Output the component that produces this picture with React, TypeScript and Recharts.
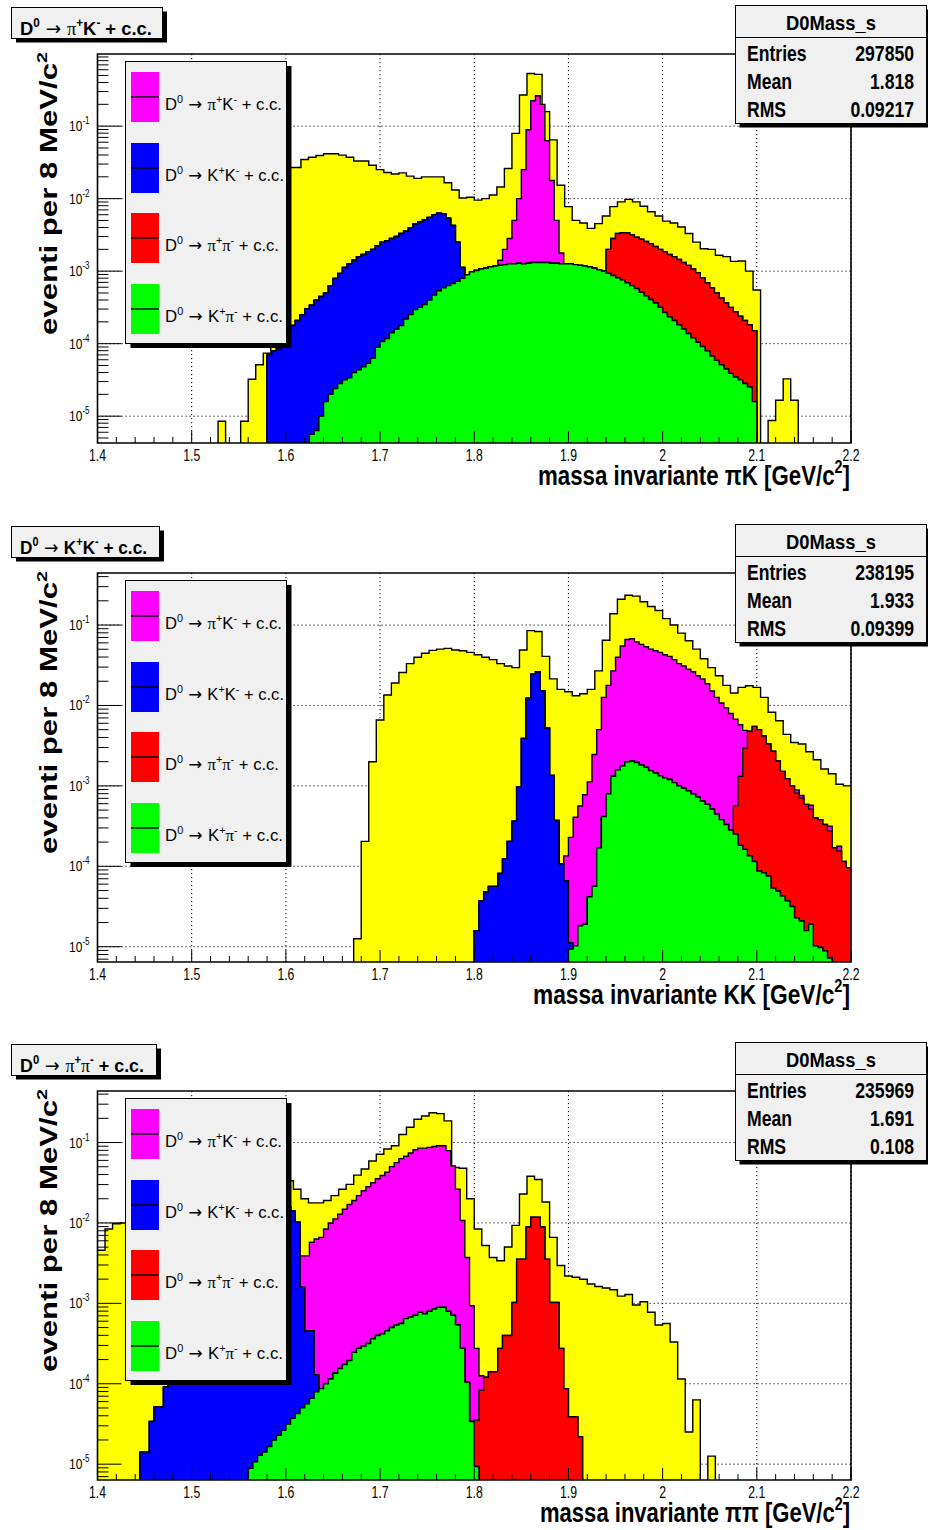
import React from 'react'
import { ComposedChart, Area, XAxis, YAxis, CartesianGrid, ReferenceArea } from 'recharts'

// D0 invariant-mass plots (ROOT THStack look), log y.
// "total" histogram: 100 bins of 8 MeV from 1.4 GeV; decay components: 160 bins of 5 MeV from 1.4 GeV.
// Every value below is log10 of the bin content (null = empty bin).
// Component arrays hold the visible top of each stacked colour (green < blue < red < magenta).

const xMajor = [1.4, 1.5, 1.6, 1.7, 1.8, 1.9, 2.0, 2.1, 2.2]
const xLabels = ['1.4', '1.5', '1.6', '1.7', '1.8', '1.9', '2', '2.1', '2.2']
const decades = [-6, -5, -4, -3, -2, -1, 0]

// ---- panel 1 : pi K mass
const p1TotalFrom = 16
const p1Total = [
  -5.07, null, null, -5.07, -4.49, -4.29, -4.13, -3.0, -2.2, -1.57,
  -1.57, -1.46, -1.43, -1.405, -1.38, -1.38, -1.4, -1.43, -1.48, -1.48,
  -1.54, -1.6, -1.64, -1.66, -1.645, -1.69, -1.72, -1.7, -1.7, -1.7,
  -1.78, -1.88, -1.99, -1.98, -2.02, -2.0, -1.95, -1.84, -1.585, -1.1,
  -0.57, -0.273, -0.286, -0.8, -1.19, -1.815, -2.11, -2.3, -2.335, -2.41,
  -2.345, -2.24, -2.11, -2.045, -2.01, -2.045, -2.105, -2.18, -2.24, -2.31,
  -2.335, -2.39, -2.48, -2.6, -2.69, -2.7, -2.78, -2.8, -2.865, -2.86,
  -3.0, -3.26, null, -5.06, -4.78, -4.485, -4.78,
]
const p1GreenFrom = 45
const p1Green = [
  -5.25, -5.2, -5.0, -4.8, -4.7, -4.62, -4.55, -4.5, -4.47, -4.4,
  -4.36, -4.32, -4.27, -4.2, -4.05, -3.97, -3.93, -3.85, -3.8, -3.75,
  -3.66, -3.6, -3.53, -3.5, -3.46, -3.4, -3.33, -3.27, -3.23, -3.2,
  -3.17, -3.14, -3.1, -3.05, -3.01, -2.99, -2.97, -2.96, -2.94, -2.93,
  -2.92, -2.91, -2.9, -2.9, -2.89, -2.9, -2.89, -2.88, -2.88, -2.88,
  -2.88, -2.89, -2.89, -2.9, -2.9, -2.9, -2.91, -2.92, -2.93, -2.94,
  -2.96, -2.98, -3.0, -3.03, -3.06, -3.09, -3.12, -3.16, -3.2, -3.24,
  -3.29, -3.34, -3.39, -3.44, -3.5, -3.57, -3.63, -3.68, -3.74, -3.8,
  -3.86, -3.92, -3.98, -4.04, -4.1, -4.17, -4.23, -4.29, -4.35, -4.41,
  -4.46, -4.5, -4.55, -4.6, -4.8,
]
const p1BlueFrom = 36
const p1Blue = [
  -4.15, -4.1, -4.07, -4.0, -3.9, -3.75, -3.68, -3.6, -3.52, -3.47,
  -3.4, -3.35, -3.3, -3.2, -3.1, -3.03, -2.95, -2.9, -2.85, -2.8,
  -2.77, -2.73, -2.7, -2.65, -2.6, -2.58, -2.55, -2.52, -2.48, -2.45,
  -2.4, -2.35, -2.32, -2.29, -2.26, -2.22, -2.2, -2.21, -2.27, -2.37,
  -2.6, -2.95,
]
const p1RedFrom = 108
const p1Red = [
  -2.7, -2.55, -2.48, -2.47, -2.47, -2.5, -2.53, -2.56, -2.59, -2.62,
  -2.66, -2.7, -2.73, -2.77, -2.8, -2.84, -2.88, -2.92, -2.97, -3.02,
  -3.09, -3.16, -3.23, -3.3, -3.37, -3.44, -3.5, -3.56, -3.62, -3.68,
  -3.74, -3.82,
]
const p1MagentaFrom = 84
const p1Magenta = [
  -2.93, -2.85, -2.7, -2.55, -2.3, -2.0, -1.6, -1.05, -0.65, -0.58,
  -0.7, -1.2, -1.75, -2.3, -2.75,
]

// ---- panel 2 : K K mass
const p2TotalFrom = 34
const p2Total = [
  -4.9, -3.69, -2.7, -2.18, -1.87, -1.72, -1.59, -1.48, -1.4, -1.35,
  -1.315, -1.3, -1.29, -1.31, -1.32, -1.34, -1.37, -1.4, -1.43, -1.48,
  -1.51, -1.53, -1.31, -1.07, -1.08, -1.39, -1.67, -1.8, -1.83, -1.88,
  -1.855, -1.8, -1.57, -1.19, -0.86, -0.68, -0.63, -0.64, -0.71, -0.77,
  -0.82, -0.92, -1.0, -1.1, -1.195, -1.3, -1.42, -1.53, -1.63, -1.75,
  -1.845, -1.775, -1.755, -1.775, -1.9, -2.085, -2.19, -2.36, -2.46, -2.48,
  -2.575, -2.675, -2.79, -2.85, -2.98, -3.0,
]
const p2GreenFrom = 100
const p2Green = [
  -5.03, -4.99, -4.74, -4.72, -4.38, -4.25, -3.77, -3.38, -3.1, -2.88,
  -2.8, -2.75, -2.7, -2.69, -2.71, -2.74, -2.77, -2.81, -2.84, -2.875,
  -2.9, -2.92, -2.96, -3.0, -3.03, -3.06, -3.1, -3.14, -3.19, -3.23,
  -3.29, -3.35, -3.42, -3.48, -3.55, -3.6, -3.74, -3.79, -3.87, -3.94,
  -4.06, -4.08, -4.12, -4.27, -4.31, -4.37, -4.43, -4.5, -4.64, -4.68,
  -4.8, -4.72, -4.99, -5.01, -5.05, -5.14,
]
const p2BlueFrom = 80
const p2Blue = [
  -4.8, -4.43, -4.32, -4.25, -4.25, -4.09, -3.91, -3.69, -3.44, -3.01,
  -2.41, -1.91, -1.61, -1.58, -1.82, -2.28, -2.87, -3.43, -3.97, -4.18,
  -4.95,
]
const p2RedFrom = 135
const p2Red = [
  -3.25, -2.88, -2.53, -2.32, -2.26, -2.3, -2.38, -2.48, -2.57, -2.69,
  -2.82, -2.91, -3.0, -3.09, -3.15, -3.23, -3.29, -3.4, -3.42, -3.48,
  -3.56, -3.77, -3.81, -3.94, -4.02,
]
const p2MagentaFrom = 99
const p2Magenta = [
  -3.87, -3.64, -3.39, -3.25, -3.11, -2.95, -2.61, -2.3, -1.9, -1.75,
  -1.57, -1.4, -1.26, -1.18, -1.17, -1.21, -1.24, -1.27, -1.3, -1.32,
  -1.34, -1.37, -1.39, -1.43, -1.48, -1.51, -1.55, -1.58, -1.63, -1.67,
  -1.73, -1.82, -1.9, -1.97, -2.03, -2.1, -2.17, -2.24, -2.31, null,
  null, null, null, null, null, null, null, null, null, -3.05,
  -3.12, null, -3.24, null, null, null, -3.5, null, -3.75, null,
  null,
]

// ---- panel 3 : pi pi mass
const p3TotalFrom = 0
const p3Total = [
  -2.34, -2.075, -2.01, -2.0, -1.99, -1.97, -1.95, -1.94, -1.9, -1.88,
  -1.86, -1.83, -1.81, -1.79, -1.77, -1.74, -1.72, -1.7, -1.67, -1.65,
  -1.62, -1.6, -1.57, -1.53, -1.5, -1.476, -1.58, -1.7, -1.75, -1.75,
  -1.72, -1.66, -1.58, -1.52, -1.405, -1.33, -1.23, -1.145, -1.08, -1.04,
  -0.9, -0.81, -0.71, -0.67, -0.63, -0.64, -0.73, -1.31, -1.32, -1.7,
  -2.075, -2.28, -2.43, -2.47, -2.3, -2.03, -1.64, -1.42, -1.46, -1.74,
  -2.18, -2.53, -2.66, -2.675, -2.7, -2.76, -2.79, -2.81, -2.83, -2.91,
  -2.89, -3.02, -2.98, -3.11, -3.27, -3.25, -3.48, -3.94, -4.6, -4.2,
  null, -4.9,
]
const p3GreenFrom = 32
const p3Green = [
  -5.05, -4.97, -4.89, -4.85, -4.78, -4.7, -4.64, -4.58, -4.5, -4.43,
  -4.37, -4.3, -4.25, -4.18, -4.1, -4.06, -4.0, -3.94, -3.87, -3.81,
  -3.76, -3.71, -3.61, -3.56, -3.53, -3.5, -3.44, -3.4, -3.38, -3.34,
  -3.3, -3.27, -3.25, -3.19, -3.17, -3.15, -3.11, -3.13, -3.1, -3.07,
  -3.05, -3.05, -3.1, -3.15, -3.27, -3.56, -3.98, -4.47, -5.03,
]
const p3BlueFrom = 9
const p3Blue = [
  -4.85, -4.85, -4.47, -4.29, -4.29, -4.04, -3.92, -3.8, -3.72, -3.6,
  -3.49, -3.42, -3.3, -3.21, -3.1, -3.02, -2.9, -2.81, -2.7, -2.62,
  -2.5, -2.41, -2.3, -2.22, -2.12, -2.05, -2.0, -1.95, -1.9, -1.86,
  -1.82, -1.8, -1.85, -1.99, -2.8, -3.34, -3.34, -3.89,
]
const p3RedFrom = 80
const p3Red = [
  -4.45, -4.08, -3.92, -3.85, -3.85, -3.56, -3.4, -3.4, -2.99, -2.45,
  -2.45, -2.05, -1.93, -1.93, -2.05, -2.45, -2.99, -2.99, -3.56, -4.06,
  -4.41, -4.41, -4.66,
]
const p3MagentaFrom = 43
const p3Magenta = [
  -2.41, -2.41, -2.24, -2.2, -2.18, -2.075, -2.0, -1.95, -1.89, -1.83,
  -1.77, -1.72, -1.66, -1.6, -1.55, -1.5, -1.45, -1.41, -1.37, -1.3,
  -1.25, -1.2, -1.17, -1.13, -1.09, -1.07, -1.07, -1.06, -1.05, -1.04,
  -1.04, -1.1, -1.29, -1.58, -1.97, -2.43, -3.03, -3.56, -3.9,
]

const decays = [
  { a: 'π', sa: '+', b: 'K', sb: '-' },
  { a: 'K', sa: '+', b: 'K', sb: '-' },
  { a: 'π', sa: '+', b: 'π', sb: '-' },
  { a: 'K', sa: '+', b: 'π', sb: '-' },
]
const legendColors = ['#ff00ff', '#0000ff', '#ff0000', '#00ff00']
const legendWidths = [117, 119, 114, 118]

const statNames = ['Entries', 'Mean', 'RMS']
const p1Stats = ['297850', '1.818', '0.09217']
const p2Stats = ['238195', '1.933', '0.09399']
const p3Stats = ['235969', '1.691', '0.108']

const SANS = "'Liberation Sans', Arial, Helvetica, sans-serif"
const SERIF = "'Liberation Serif', 'DejaVu Serif', serif"
const ARROW = "'DejaVu Sans', sans-serif"
const FLOOR = 1e-9
const CHART_H = 500

type Arr = (number | null)[]

function place(n: number, from: number, vals: Arr): Arr {
  const out: Arr = new Array(n).fill(null)
  vals.forEach((v, i) => {
    out[from + i] = v
  })
  return out
}

const toVal = (v: number | null | undefined) => (v == null ? null : Math.pow(10, v))

function buildRows(total: Arr, green: Arr, blue: Arr, red: Arr, magenta: Arr) {
  const edges = new Set<number>()
  for (let i = 0; i <= 100; i++) edges.add(1400 + 8 * i)
  for (let k = 0; k <= 160; k++) edges.add(1400 + 5 * k)
  const ms = Array.from(edges).sort((a, b) => a - b)
  return ms.map((m) => {
    const j = Math.min(Math.floor((m - 1400) / 8), 99)
    const k = Math.min(Math.floor((m - 1400) / 5), 159)
    const g = toVal(green[k]) ?? FLOOR
    const b = toVal(blue[k]) ?? g
    const r = toVal(red[k]) ?? b
    const mg = toVal(magenta[k]) ?? r
    const t = toVal(total[j]) ?? FLOOR
    return { x: m / 1000, total: t, magenta: mg, red: r, blue: b, green: g }
  })
}

const panels = [
  {
    top: 0,
    yMin: Math.pow(10, -5.37),
    yMax: Math.pow(10, -0.005),
    rows: buildRows(
      place(100, p1TotalFrom, p1Total),
      place(160, p1GreenFrom, p1Green),
      place(160, p1BlueFrom, p1Blue),
      place(160, p1RedFrom, p1Red),
      place(160, p1MagentaFrom, p1Magenta)
    ),
    decay: decays[0],
    titleW: 151,
    titleTextW: 132,
    xTitle: 'massa invariante πK [GeV/c',
    xTitleW: 312,
    stats: p1Stats,
  },
  {
    top: 519,
    yMin: Math.pow(10, -5.19),
    yMax: Math.pow(10, -0.353),
    rows: buildRows(
      place(100, p2TotalFrom, p2Total),
      place(160, p2GreenFrom, p2Green),
      place(160, p2BlueFrom, p2Blue),
      place(160, p2RedFrom, p2Red),
      place(160, p2MagentaFrom, p2Magenta)
    ),
    decay: decays[1],
    titleW: 148,
    titleTextW: 127,
    xTitle: 'massa invariante KK [GeV/c',
    xTitleW: 317,
    stats: p2Stats,
  },
  {
    top: 1037,
    yMin: Math.pow(10, -5.197),
    yMax: Math.pow(10, -0.359),
    rows: buildRows(
      place(100, p3TotalFrom, p3Total),
      place(160, p3GreenFrom, p3Green),
      place(160, p3BlueFrom, p3Blue),
      place(160, p3RedFrom, p3Red),
      place(160, p3MagentaFrom, p3Magenta)
    ),
    decay: decays[2],
    titleW: 145,
    titleTextW: 124,
    xTitle: 'massa invariante ππ [GeV/c',
    xTitleW: 310,
    stats: p3Stats,
  },
]

const layers = [
  { key: 'total', color: '#ffff00' },
  { key: 'magenta', color: '#ff00ff' },
  { key: 'red', color: '#ff0000' },
  { key: 'blue', color: '#0000ff' },
  { key: 'green', color: '#00ff00' },
]

const xTicks: number[] = []
for (let i = 0; i <= 40; i++) xTicks.push(Math.round((1.4 + i * 0.02) * 1000) / 1000)

function yTicksFor(lo: number, hi: number) {
  const out: number[] = []
  decades.forEach((d) => {
    for (let m = 1; m <= 9; m++) {
      const v = m * Math.pow(10, d)
      if (v >= lo && v <= hi) out.push(v)
    }
  })
  return out
}

function XTick(props: any) {
  const { x, y, payload } = props
  const i = xMajor.findIndex((m) => Math.abs(m - payload.value) < 1e-6)
  const major = i >= 0
  return (
    <g>
      <line x1={x} x2={x} y1={y} y2={y - (major ? 12 : 6)} stroke="#000" strokeWidth={1} />
      {major && (
        <text
          transform={`translate(${x},${y + 18}) scale(0.72,1)`}
          textAnchor="middle"
          fontSize={17}
          fontFamily={SANS}
          fill="#000"
        >
          {xLabels[i]}
        </text>
      )}
    </g>
  )
}

function YTick(props: any) {
  const { x, y, payload } = props
  const v = payload.value
  const d = Math.round(Math.log10(v))
  const major = Math.abs(v / Math.pow(10, d) - 1) < 1e-6
  return (
    <g>
      <line x1={x} x2={x + (major ? 24 : 11)} y1={y} y2={y} stroke="#000" strokeWidth={1} />
      {major && (
        <text
          transform={`translate(${x - 8},${y + 5}) scale(0.8,1)`}
          textAnchor="end"
          fontSize={15}
          fontFamily={SANS}
          fill="#000"
        >
          <tspan>10</tspan>
          <tspan dy={-7} fontSize={10}>
            {String(d)}
          </tspan>
        </text>
      )}
    </g>
  )
}

function decayTspans(d: { a: string; sa: string; b: string; sb: string }, size: number) {
  const small = Math.round(size * 0.62)
  const up = size * 0.42
  const fam = (s: string) => (s === 'π' ? SERIF : undefined)
  const wt = (s: string) => (s === 'π' ? 'normal' : undefined)
  return [
    <tspan key="d">D</tspan>,
    <tspan key="d0" dy={-up} fontSize={small}>0</tspan>,
    <tspan key="ar" dy={up} fontFamily={ARROW} fontWeight="normal">{' → '}</tspan>,
    <tspan key="a" fontFamily={fam(d.a)} fontWeight={wt(d.a)}>{d.a}</tspan>,
    <tspan key="sa" dy={-up} fontSize={small}>{d.sa}</tspan>,
    <tspan key="b" dy={up} fontFamily={fam(d.b)} fontWeight={wt(d.b)}>{d.b}</tspan>,
    <tspan key="sb" dy={-up} fontSize={small}>{d.sb}</tspan>,
    <tspan key="cc" dy={up}>{' + c.c.'}</tspan>,
  ]
}

function Overlay({ p }: { p: (typeof panels)[number] }) {
  const legendTops = [72, 143, 213, 284]
  const statY = [61, 89, 117]
  return (
    <svg
      width={928}
      height={CHART_H}
      style={{ position: 'absolute', left: 0, top: 0, pointerEvents: 'none', whiteSpace: 'pre' }}
    >
      {/* title box */}
      <rect x={16} y={11.5} width={p.titleW} height={31} fill="#000" />
      <rect x={11.5} y={7.5} width={p.titleW} height={31} fill="#f0f0f0" stroke="#000" strokeWidth={1} />
      <text
        x={20}
        y={35}
        fontSize={19}
        fontWeight="bold"
        fontFamily={SANS}
        textLength={p.titleTextW}
        lengthAdjust="spacingAndGlyphs"
      >
        {decayTspans(p.decay, 19)}
      </text>

      {/* stats box */}
      <rect x={739.5} y={9.5} width={191} height={118} fill="#000" />
      <rect x={735.5} y={5.5} width={191} height={118} fill="#f0f0f0" stroke="#000" strokeWidth={1} />
      <line x1={735.5} x2={926.5} y1={37.5} y2={37.5} stroke="#000" strokeWidth={1} />
      <text
        x={831}
        y={29.5}
        textAnchor="middle"
        fontSize={21}
        fontWeight="bold"
        fontFamily={SANS}
        textLength={90}
        lengthAdjust="spacingAndGlyphs"
      >
        D0Mass_s
      </text>
      {statNames.map((n, i) => (
        <g key={n}>
          <text transform={`translate(747,${statY[i]}) scale(0.8,1)`} fontSize={22} fontWeight="bold" fontFamily={SANS}>
            {n}
          </text>
          <text
            transform={`translate(914,${statY[i]}) scale(0.8,1)`}
            textAnchor="end"
            fontSize={22}
            fontWeight="bold"
            fontFamily={SANS}
          >
            {p.stats[i]}
          </text>
        </g>
      ))}

      {/* legend */}
      <rect x={130.5} y={66} width={161} height={282} fill="#000" />
      <rect x={125.5} y={61.5} width={161} height={282} fill="#f0f0f0" stroke="#000" strokeWidth={1} />
      {decays.map((d, i) => (
        <g key={i}>
          <rect x={131} y={legendTops[i]} width={28} height={50} fill={legendColors[i]} />
          <line x1={131} x2={159} y1={legendTops[i] + 25} y2={legendTops[i] + 25} stroke="#000" strokeWidth={1.4} />
          <text
            x={165}
            y={legendTops[i] + 38}
            fontSize={17}
            fontFamily={SANS}
            textLength={legendWidths[i]}
            lengthAdjust="spacingAndGlyphs"
          >
            {decayTspans(d, 17)}
          </text>
        </g>
      ))}

      {/* axis titles */}
      <text
        transform="translate(57,335) scale(0.8,1) rotate(-90)"
        fontSize={30}
        fontWeight="bold"
        fontFamily={SANS}
        textLength={283}
        lengthAdjust="spacingAndGlyphs"
      >
        eventi per 8 MeV/c
        <tspan dy={-12} fontSize={19}>2</tspan>
      </text>
      <text
        x={850 - p.xTitleW}
        y={485}
        fontSize={28}
        fontWeight="bold"
        fontFamily={SANS}
        textLength={p.xTitleW}
        lengthAdjust="spacingAndGlyphs"
      >
        {p.xTitle}
        <tspan dy={-12} fontSize={18}>2</tspan>
        <tspan dy={12}>]</tspan>
      </text>
    </svg>
  )
}

function Panel({ p }: { p: (typeof panels)[number] }) {
  const yTicks = yTicksFor(p.yMin, p.yMax)
  const gridY = decades.map((d) => Math.pow(10, d)).filter((v) => v >= p.yMin && v <= p.yMax)
  return (
    <div style={{ position: 'absolute', left: 0, top: p.top, width: 928, height: CHART_H }}>
      <ComposedChart width={928} height={CHART_H} data={p.rows} margin={{ top: 54, right: 77, bottom: 0, left: 0 }}>
        <CartesianGrid
          stroke="#000"
          strokeWidth={1}
          strokeDasharray="1.2 2.8"
          horizontalValues={gridY}
          verticalValues={xMajor}
        />
        <XAxis
          type="number"
          dataKey="x"
          domain={[1.4, 2.2]}
          ticks={xTicks}
          interval={0}
          height={57}
          tick={XTick}
          tickLine={false}
          axisLine={false}
          tickSize={0}
          tickMargin={0}
          allowDataOverflow
        />
        <YAxis
          type="number"
          scale="log"
          domain={[p.yMin, p.yMax]}
          ticks={yTicks}
          interval={0}
          width={97.5}
          tick={YTick}
          tickLine={false}
          axisLine={false}
          tickSize={0}
          tickMargin={0}
          allowDataOverflow
        />
        {layers.map((l) => (
          <Area
            key={l.key}
            type="stepAfter"
            dataKey={l.key}
            fill={l.color}
            fillOpacity={1}
            stroke="#000"
            strokeWidth={1.4}
            baseValue={FLOOR}
            dot={false}
            activeDot={false}
            isAnimationActive={false}
          />
        ))}
        <ReferenceArea
          x1={1.4}
          x2={2.2}
          y1={p.yMin}
          y2={p.yMax}
          fill="none"
          fillOpacity={0}
          stroke="#000"
          strokeWidth={1.6}
          ifOverflow="visible"
        />
      </ComposedChart>
      <Overlay p={p} />
    </div>
  )
}

export default function App() {
  return (
    <div
      style={{
        position: 'absolute',
        left: 0,
        top: 0,
        width: 928,
        height: 1530,
        overflow: 'hidden',
        background: '#fff',
      }}
    >
      {panels.map((p, i) => (
        <Panel key={i} p={p} />
      ))}
    </div>
  )
}
